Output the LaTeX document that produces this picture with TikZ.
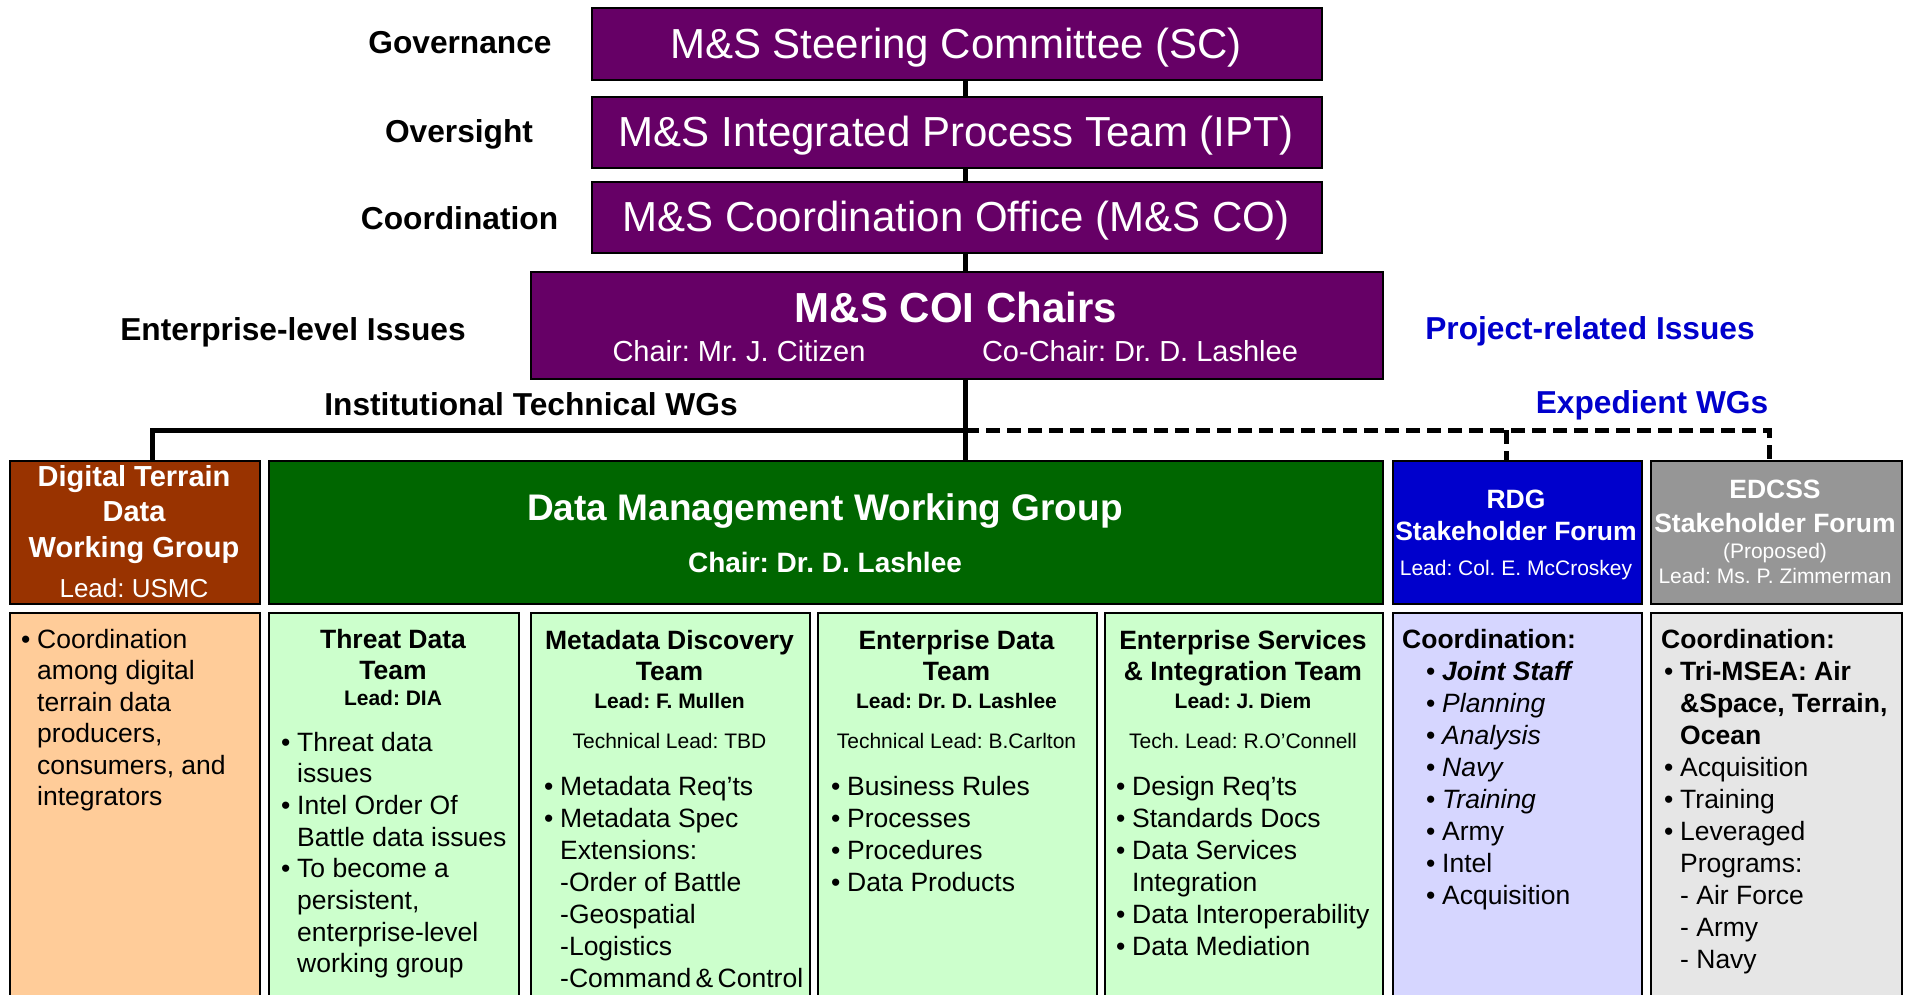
\documentclass[tikz,border=0pt]{standalone}
\usepackage{fontspec}
\setmainfont{Liberation Sans}
\frenchspacing
\definecolor{coipurple}{HTML}{660066}
\definecolor{dtdbrown}{HTML}{993300}
\definecolor{dmgreen}{HTML}{006600}
\definecolor{rdgblue}{HTML}{0000CC}
\definecolor{edgray}{HTML}{969696}
\definecolor{peach}{HTML}{FFCC99}
\definecolor{ltgreen}{HTML}{CCFFCC}
\definecolor{lavender}{HTML}{D6D6FF}
\definecolor{ltgray}{HTML}{E6E6E6}
\definecolor{labelblue}{HTML}{0000CC}
\newcommand\fsz[2]{\fontsize{#1pt}{#2pt}\selectfont}
\newcommand\bl{\makebox[16pt][l]{\textbullet}}
\newcommand\ind{\hspace*{16pt}}
\begin{document}
\begin{tikzpicture}[x=1pt,y=-1pt,
  box/.style={draw=black, line width=2pt, inner sep=0pt, anchor=north west},
  conn/.style={line width=5pt},
  dashconn/.style={line width=5pt, dash pattern=on 14pt off 7pt},
  tx/.style={inner sep=0pt, anchor=base},
  txl/.style={inner sep=0pt, anchor=base west},
  sidelabel/.style={tx, font=\bfseries\fsz{31.7}{38}},
  toptext/.style={tx, text=white, font=\fsz{42}{50}},
  teamtitle/.style={tx, font=\bfseries\fsz{26.5}{31}},
  teamlead/.style={tx, font=\bfseries\fsz{21}{25}},
  techlead/.style={tx, font=\fsz{21}{25}},
  bodytext/.style={txl, font=\fsz{26.5}{32}}
]
\useasboundingbox (0,0) rectangle (1907,995);
\clip (0,0) rectangle (1907,995);

% ---------- boxes ----------
\node[box, fill=coipurple, minimum width=730pt, minimum height=72pt] (sc)  at (591,7) {};
\node[box, fill=coipurple, minimum width=730pt, minimum height=71pt] (ipt) at (591,96) {};
\node[box, fill=coipurple, minimum width=730pt, minimum height=71pt] (co)  at (591,181) {};
\node[box, fill=coipurple, minimum width=852pt, minimum height=107pt] (coi) at (530,271) {};

\node[box, fill=dtdbrown, minimum width=250pt, minimum height=143pt] (dtd) at (9,460) {};
\node[box, fill=dmgreen, minimum width=1114pt, minimum height=143pt] (dm) at (268,460) {};
\node[box, fill=rdgblue, minimum width=249pt, minimum height=143pt] (rdg) at (1392,460) {};
\node[box, fill=edgray, minimum width=251pt, minimum height=143pt] (edc) at (1650,460) {};

\node[box, fill=peach, minimum width=250pt, minimum height=420pt] (dtdb) at (9,612) {};
\node[box, fill=ltgreen, minimum width=250pt, minimum height=420pt] (thr) at (268,612) {};
\node[box, fill=ltgreen, minimum width=279pt, minimum height=420pt] (meta) at (530,612) {};
\node[box, fill=ltgreen, minimum width=279pt, minimum height=420pt] (ent) at (817,612) {};
\node[box, fill=ltgreen, minimum width=278pt, minimum height=420pt] (esi) at (1104,612) {};
\node[box, fill=lavender, minimum width=249pt, minimum height=420pt] (rdgb) at (1392,612) {};
\node[box, fill=ltgray, minimum width=251pt, minimum height=420pt] (edcb) at (1650,612) {};

% ---------- connectors ----------
\coordinate (spine) at (965,0);
\coordinate (bus) at (0,430);
\coordinate (dtddrop) at (152,0);
\coordinate (rdgdrop) at (1506,0);
\coordinate (edcdrop) at (1769,0);
\draw[conn] (sc.south -| spine) -- (ipt.north -| spine);
\draw[conn] (ipt.south -| spine) -- (co.north -| spine);
\draw[conn] (co.south -| spine) -- (coi.north -| spine);
\draw[conn] (coi.south -| spine) -- (dm.north -| spine);
\draw[conn] (spine |- bus) -| (dtd.north -| dtddrop);
\draw[dashconn] (spine |- bus) -- (edcdrop |- bus) -- (edc.north -| edcdrop);
\draw[dashconn] (rdgdrop |- bus) -- (rdg.north -| rdgdrop);

% ---------- side labels ----------
\node[sidelabel] (lgov) at (460,54) {Governance};
\node[sidelabel] (lovs) at (459,143) {Oversight};
\node[sidelabel] (lcrd) at (459.5,230) {Coordination};
\node[sidelabel] (lent) at (293,340) {Enterprise-level Issues};
\node[sidelabel] (linst) at (531,415) {Institutional Technical WGs};
\node[sidelabel, text=labelblue] (lproj) at (1590,339) {Project-related Issues};
\node[sidelabel, text=labelblue] (lexp) at (1652,413) {Expedient WGs};

% ---------- top box texts ----------
\node[toptext] (tsc) at (956,59) {M\&S Steering Committee (SC)};
\node[toptext] (tipt) at (956,147) {M\&S Integrated Process Team (IPT)};
\node[toptext] (tco) at (956,232) {M\&S Coordination Office (M\&S CO)};
\node[toptext, font=\bfseries\fsz{42}{50}] (tcoi) at (956,323) {M\&S COI Chairs};
\node[tx, text=white, font=\fsz{29}{34}] (tchair) at (739,361) {Chair: Mr. J. Citizen};
\node[tx, text=white, font=\fsz{29}{34}] (tcochair) at (1140,361) {Co-Chair: Dr. D. Lashlee};

% ---------- header texts ----------
\node[tx, text=white, font=\bfseries\fsz{29}{35.5}] (tdtd) at (134,486)
  {\parbox[t]{240pt}{\centering Digital Terrain\\Data\\Working Group}};
\node[tx, text=white, font=\fsz{26}{30}] (tdtdlead) at (134,597) {Lead: USMC};
\node[tx, text=white, font=\bfseries\fsz{37}{44}] (tdm) at (825,520) {Data Management Working Group};
\node[tx, text=white, font=\bfseries\fsz{28}{33}] (tdmchair) at (825,572) {Chair: Dr. D. Lashlee};
\node[tx, text=white, font=\bfseries\fsz{26.5}{32}] (trdg) at (1516,508)
  {\parbox[t]{245pt}{\centering RDG\\Stakeholder Forum}};
\node[tx, text=white, font=\fsz{21}{25}] (trdglead) at (1516,575) {Lead: Col. E. McCroskey};
\node[tx, text=white, font=\bfseries\fsz{26.5}{34}] (tedc) at (1775,498)
  {\parbox[t]{248pt}{\centering EDCSS\\Stakeholder Forum}};
\node[tx, text=white, font=\fsz{21}{25}] (tedcprop) at (1775,558) {(Proposed)};
\node[tx, text=white, font=\fsz{21}{25}] (tedclead) at (1775,583) {Lead: Ms. P. Zimmerman};

% ---------- lower box texts ----------
% Digital terrain
\node[bodytext, font=\fsz{26.5}{31.5}] (bdtd) at (21,648)
  {\parbox[t]{235pt}{\raggedright \bl Coordination\\\ind among digital\\\ind terrain data\\\ind producers,\\\ind consumers, and\\\ind integrators}};
% Threat
\node[teamtitle] (tthr) at (393,648) {\parbox[t]{245pt}{\centering Threat Data\\Team}};
\node[teamlead] (lthr) at (393,705.5) {Lead: DIA};
\node[bodytext, font=\fsz{26.5}{31.7}] (bthr) at (281,751)
  {\parbox[t]{235pt}{\raggedright \bl Threat data\\\ind issues\\\bl Intel Order Of\\\ind Battle data issues\\\bl To become a\\\ind persistent,\\\ind enterprise-level\\\ind working group}};
% Metadata
\node[teamtitle] (tmeta) at (669.5,649) {\parbox[t]{275pt}{\centering Metadata Discovery\\Team}};
\node[teamlead] (lmeta) at (669.5,708) {Lead: F. Mullen};
\node[techlead] (tlmeta) at (669.5,748) {Technical Lead: TBD};
\node[bodytext] (bmeta) at (544,795)
  {\parbox[t]{265pt}{\raggedright \bl Metadata Req’ts\\\bl Metadata Spec\\\ind Extensions:\\\ind -Order of Battle\\\ind -Geospatial\\\ind -Logistics\\\ind -Command\,\&\,Control}};
% Enterprise Data
\node[teamtitle] (tent) at (956.5,649) {\parbox[t]{275pt}{\centering Enterprise Data\\Team}};
\node[teamlead] (lent2) at (956.5,708) {Lead: Dr. D. Lashlee};
\node[techlead] (tlent) at (956.5,748) {Technical Lead: B.Carlton};
\node[bodytext] (bent) at (831,795)
  {\parbox[t]{260pt}{\raggedright \bl Business Rules\\\bl Processes\\\bl Procedures\\\bl Data Products}};
% Enterprise Services
\node[teamtitle] (tesi) at (1243,649) {\parbox[t]{275pt}{\centering Enterprise Services\\\& Integration Team}};
\node[teamlead] (lesi) at (1243,708) {Lead: J. Diem};
\node[techlead] (tlesi) at (1243,748) {Tech. Lead: R.O’Connell};
\node[bodytext] (besi) at (1116,795)
  {\parbox[t]{265pt}{\raggedright \bl Design Req’ts\\\bl Standards Docs\\\bl Data Services\\\ind Integration\\\bl Data Interoperability\\\bl Data Mediation}};
% RDG coordination
\node[txl, font=\bfseries\fsz{26.5}{32}] (crdg) at (1402,648) {Coordination:};
\node[bodytext] (brdg) at (1426,680)
  {\parbox[t]{210pt}{\raggedright \bl\textbf{\textit{Joint Staff}}\\\bl\textit{Planning}\\\bl\textit{Analysis}\\\bl\textit{Navy}\\\bl\textit{Training}\\\bl Army\\\bl Intel\\\bl Acquisition}};
% EDCSS coordination
\node[txl, font=\bfseries\fsz{26.5}{32}] (cedc) at (1661,648) {Coordination:};
\node[bodytext] (bedc) at (1664,680)
  {\parbox[t]{235pt}{\raggedright \bl\textbf{Tri-MSEA: Air}\\\ind\textbf{\&Space, Terrain,}\\\ind\textbf{Ocean}\\\bl Acquisition\\\bl Training\\\bl Leveraged\\\ind Programs:\\\ind - Air Force\\\ind - Army\\\ind - Navy}};
\end{tikzpicture}
\end{document}
